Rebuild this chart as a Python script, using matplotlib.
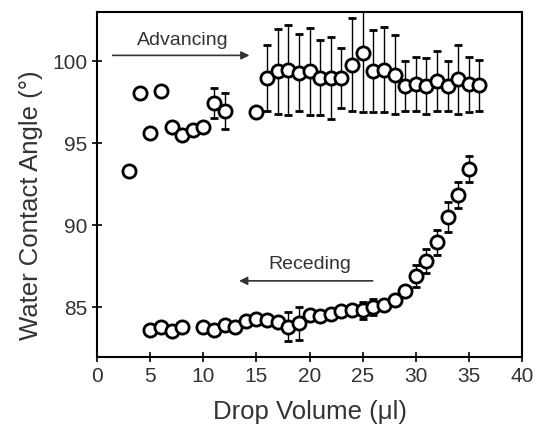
import matplotlib
matplotlib.use("Agg")
import matplotlib.pyplot as plt
import numpy as np

plt.rcParams['font.family'] = ['Liberation Sans', 'DejaVu Sans']

# Advancing series
adv_x = [3, 4, 5, 6, 7, 8, 9, 10, 11, 12, 15, 16, 17, 18, 19, 20, 21, 22, 23, 24,
         25, 26, 27, 28, 29, 30, 31, 32, 33, 34, 35, 36]
adv_y = [93.3, 98.1, 95.65, 98.2, 96.0, 95.5, 95.8, 96.0, 97.45, 97.0, 96.9, 99.0,
         99.4, 99.5, 99.3, 99.4, 99.0, 99.0, 99.0, 99.8, 100.5, 99.4, 99.5, 99.2,
         98.5, 98.6, 98.5, 98.8, 98.5, 98.9, 98.6, 98.55]
adv_err = [0, 0, 0, 0, 0, 0, 0, 0, 0.9, 1.1, 0.2, 2.0, 2.6, 2.75, 2.35, 2.65, 2.3,
           2.5, 1.85, 2.85, 3.6, 2.5, 2.6, 2.4, 1.55, 1.65, 1.7, 1.85, 1.5, 2.1,
           1.7, 1.55]

# Receding series
rec_x = [5, 6, 7, 8, 10, 11, 12, 13, 14, 15, 16, 17, 18, 19, 20, 21, 22, 23, 24,
         25, 26, 27, 28, 29, 30, 31, 32, 33, 34, 35]
rec_y = [83.6, 83.8, 83.55, 83.8, 83.8, 83.6, 83.9, 83.8, 84.15, 84.3, 84.2, 84.1,
         83.8, 84.0, 84.5, 84.45, 84.6, 84.75, 84.8, 84.8, 85.0, 85.15, 85.45,
         86.0, 86.9, 87.8, 88.95, 90.5, 91.85, 93.45]
rec_err = [0, 0, 0, 0, 0, 0, 0, 0, 0, 0.25, 0.25, 0, 0.9, 1.0, 0.25, 0.25, 0, 0,
           0.3, 0.5, 0.5, 0.2, 0, 0, 0.65, 0.75, 0.75, 0.9, 0.8, 0.8]

fig = plt.figure(figsize=(5.37, 4.26), dpi=100)
ax = fig.add_axes([0.181, 0.162, 0.791, 0.811])

mk = dict(fmt='o', ms=9.5, mfc='white', mec='black', mew=2.0, ecolor='black',
          elinewidth=1.0, capsize=3, capthick=1.0, color='black', zorder=3)
ax.errorbar(adv_x, adv_y, yerr=adv_err, **mk)
ax.errorbar(rec_x, rec_y, yerr=rec_err, **mk)

ax.set_xlim(0, 40)
ax.set_ylim(81.95, 103.05)
ax.set_xticks([0, 5, 10, 15, 20, 25, 30, 35, 40])
ax.set_yticks([85, 90, 95, 100])
ax.tick_params(direction='inout', length=7, width=1.2, labelsize=15,
               colors='black', labelcolor='#333333')
for s in ax.spines.values():
    s.set_linewidth(1.5)

ax.set_xlabel('Drop Volume (μl)', fontsize=18.5, color='#333333', labelpad=10)
ax.set_ylabel('Water Contact Angle (°)', fontsize=18.5, color='#333333')
ax.yaxis.set_label_coords(-0.128, 0.44)

ax.annotate('', xy=(14.6, 100.37), xytext=(1.2, 100.37),
            arrowprops=dict(arrowstyle='-|>', color='#333333', lw=1.2,
                            mutation_scale=12))
ax.text(8.1, 101.3, 'Advancing', fontsize=14, ha='center', va='center', color='#333333')
ax.annotate('', xy=(13.1, 86.6), xytext=(26.2, 86.6),
            arrowprops=dict(arrowstyle='-|>', color='#333333', lw=1.2,
                            mutation_scale=12))
ax.text(20.05, 87.6, 'Receding', fontsize=14, ha='center', va='center', color='#333333')

fig.savefig('out.png', dpi=100)
